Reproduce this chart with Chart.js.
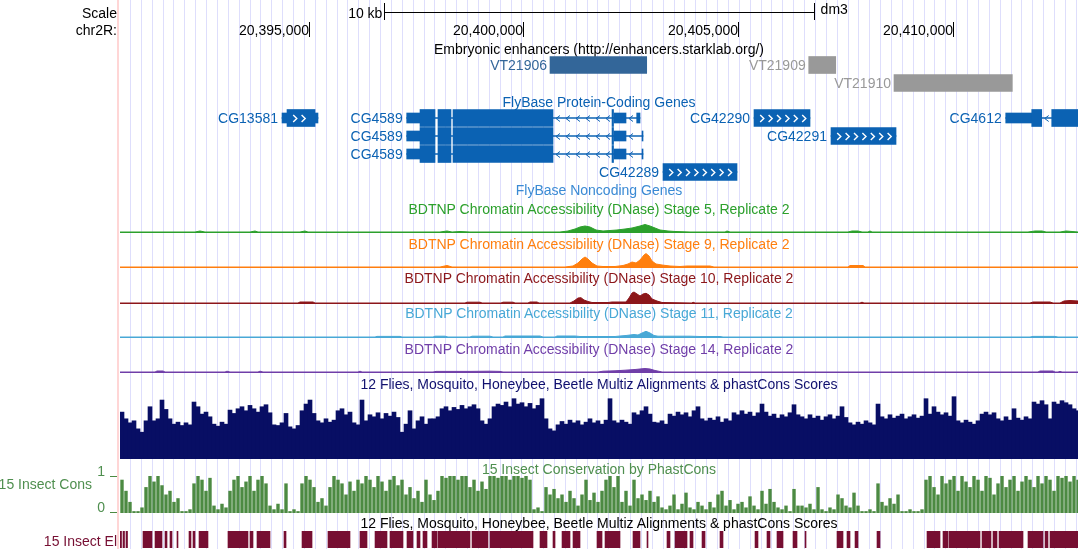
<!DOCTYPE html>
<html><head><meta charset="utf-8">
<script src="https://cdn.jsdelivr.net/npm/chart.js@4.4.0/dist/chart.umd.min.js"></script>
<style>
html,body{margin:0;padding:0;background:#fff;}
#wrap{position:relative;width:1078px;height:549px;overflow:hidden;font-family:'Liberation Sans',Arial,Helvetica,sans-serif;font-size:14px;}
#wrap canvas{position:absolute;left:0;}
.t{position:absolute;white-space:nowrap;line-height:16px;height:16px;}
#border{position:absolute;left:117px;top:0;width:2px;height:549px;background:#ffd6d6;}
</style></head><body><div id="wrap"></div>
<script>
// ---------- region & axis ----------
const REGION_START = 20390600;
const REGION_END = 20412921;
const RULER_TICKS = [20395000, 20400000, 20405000, 20410000];
const RULER_LABELS = ['20,395,000', '20,400,000', '20,405,000', '20,410,000'];
const SCALE_BAR_BP = 10000;
const GRID_START = 20390833;
const GRID_STEP = 253.3;

// ---------- enhancers ----------
const enhancerNames = ['VT21906', 'VT21909', 'VT21910'];
const enhancerStarts = [20400619, 20406647, 20408634];
const enhancerEnds = [20402872, 20407276, 20411391];
const enhancerRows = [0, 0, 1];
const enhancerScores = [1000, 400, 400];

// ---------- genes ----------
const geneNames = ['CG13581', 'CG4589', 'CG4589', 'CG4589', 'CG42290', 'CG42291', 'CG42289', 'CG4612'];
const geneRows = [0, 0, 1, 2, 0, 1, 3, 0];
const geneStrands = ['+', '-', '-', '-', '+', '+', '+', '-'];
const geneTxStarts = [20394375, 20397280, 20397280, 20397280, 20405372, 20407166, 20403252, 20411237];
const geneTxEnds = [20395213, 20402716, 20402786, 20402786, 20406677, 20408681, 20404976, 20413000];
const geneExons = [
  [[20394375, 20394491, 'u'], [20394491, 20395144, 'c'], [20395144, 20395213, 'u']],
  [[20397280, 20397590, 'u'], [20397590, 20397940, 'c'], [20398009, 20398312, 'c'], [20398359, 20400689, 'c'], [20402064, 20402099, 'c'], [20402110, 20402390, 'u'], [20402639, 20402716, 'u']],
  [[20397280, 20397590, 'u'], [20397590, 20397940, 'c'], [20398009, 20398312, 'c'], [20398359, 20400689, 'c'], [20402064, 20402099, 'c'], [20402110, 20402390, 'u'], [20402763, 20402786, 'u']],
  [[20397280, 20397590, 'u'], [20397590, 20397940, 'c'], [20398009, 20398312, 'c'], [20398359, 20400689, 'c'], [20402064, 20402099, 'c'], [20402110, 20402390, 'u'], [20402763, 20402786, 'u']],
  [[20405372, 20406677, 'c']],
  [[20407166, 20408681, 'c']],
  [[20403252, 20404976, 'c']],
  [[20411237, 20411843, 'u'], [20411843, 20412076, 'c'], [20412309, 20413000, 'c']]
];

// ---------- BDTNP DNase signal (position bp, signal) ----------
const stage5Pos = [20390600,20392348,20392464,20392580,20393629,20393746,20393815,20394794,20394910,20394980,20398056,20398219,20398336,20398522,20398755,20400852,20401038,20401202,20401318,20401435,20401551,20401691,20401854,20402017,20402180,20402367,20402530,20402716,20402833,20402949,20403066,20403182,20403368,20403532,20403881,20404697,20404743,20404813,20407562,20407656,20407795,20407889,20408028,20408075,20408122,20411756,20411920,20412083,20412176,20412502,20412642,20412782,20412921];
const stage5Val = [1,1,2,1,1,2,1,1,2,1,1,2,1,1.5,1,1,2,4,6,7,6,3,2,2.5,3,4,5,7,8.5,7,5,3,2,1.5,1,1,2,1,1,2,2,1,1,2,1,1,2,2,1,1,2,1.5,1];
const stage9Pos = [20390600,20398056,20398219,20398336,20400969,20401155,20401271,20401365,20401435,20401504,20401598,20401714,20401854,20402134,20402320,20402436,20402530,20402623,20402716,20402809,20402856,20402926,20402996,20403089,20403229,20403415,20403648,20403811,20404347,20404440,20407562,20407609,20407912,20407959,20412921];
const stage9Val = [1,1,2.5,1,1,2,5,9,11,9,5,2,1.5,1.5,2.5,4,6,5,8,13,14.4,12,7,4,3,2,1.5,2,2,1,1,2.5,2.5,1,1];
const stage10Pos = [20390600,20394747,20394794,20395097,20395144,20398639,20398685,20398988,20399035,20399477,20399524,20399757,20399804,20400106,20400153,20400316,20400363,20401085,20401178,20401271,20401341,20401411,20401504,20401598,20401970,20402064,20402390,20402460,20402530,20402576,20402646,20402716,20402786,20402856,20402926,20402996,20403112,20403229,20403928,20403951,20403998,20407842,20407889,20407935,20411803,20411873,20412269,20412339,20412502,20412595,20412735,20412921];
const stage10Val = [1,1,2,2,1,1,1.8,1.8,1,1,1.8,1.8,1,1,2,2,1,1,3,6,6.3,4,2.5,1.5,1.5,2,2,6,11,12,10,8,10,10.7,9,5,3,1.5,1,1.8,1,1,1.8,1,1,2,2,1,1,3,3.5,3];
const stage11Pos = [20390600,20396542,20396588,20397124,20397171,20397893,20397940,20398173,20398242,20398755,20398802,20399221,20399291,20399524,20399571,20400386,20400456,20400736,20400782,20401202,20401318,20401784,20402134,20402250,20402390,20402483,20402576,20402669,20402763,20402856,20402949,20403042,20403135,20403881,20404114,20404580,20404650,20411803,20411873,20412386,20412455,20412921];
const stage11Val = [1,1,1.6,1.6,1,1,1.8,1.8,1,1,1.8,1.8,1,1,2,2,1,1,2,2,1.5,1.5,1.5,2,2.5,3,3.5,3,5,6.7,5,2.5,1.8,1.8,1.5,1.5,1,1,1.6,1.6,1,1];
const stage14Pos = [20390600,20391416,20391462,20391602,20391649,20393047,20393093,20393163,20393815,20393862,20393932,20396145,20396192,20396239,20397893,20397963,20398755,20399221,20399454,20399524,20401737,20401854,20402134,20402367,20402600,20402763,20402833,20402949,20403066,20403182,20403229,20411989,20412036,20412339,20412386,20412455,20412502,20412549,20412921];
const stage14Val = [1,1,2,2,1,1,1.8,1,1,1.8,1,1,1.8,1,1,1.6,1.6,1.8,1.6,1,1,1.8,2.2,2.8,3.5,4.2,4.5,4,2.5,1.5,1,1,2,2,1,1,1.6,1,1];

// ---------- conservation (binned) ----------
const BIN_BP = 93.2;
const multizScores = [
70,60,54,57,45,40,57,78,57,60, 88,74,60,52,55,50,54,51,85,78,
67,70,63,52,49,55,52,73,68,75, 78,72,80,75,70,78,81,69,51,50,
54,68,48,45,50,72,82,88,68,57, 54,60,55,58,72,75,66,70,54,51,
88,57,66,63,69,60,68,64,70,62, 40,52,72,45,57,63,52,60,60,63,
75,78,72,77,74,80,75,78,81,75, 57,52,60,78,82,80,85,78,90,82,
84,78,83,75,80,90,60,45,42,51, 56,52,58,54,57,51,55,60,54,57,
52,58,90,57,54,58,55,52,69,66, 72,78,67,55,54,57,52,67,64,70,
66,69,63,72,78,60,57,61,58,63, 55,60,57,69,66,72,67,70,64,69,
82,70,64,67,61,66,63,69,81,66, 63,60,66,61,64,58,63,66,60,64,
78,62,54,51,55,52,57,54,51,82, 63,60,66,61,64,67,60,63,66,61,
64,90,67,78,70,66,69,64,93,57, 54,58,55,52,57,67,70,66,69,60,
57,63,58,75,61,58,63,60,85,82, 87,81,60,85,82,87,84,81,75,72];
const phastCons = [
0.9,0.6,0.3,0.05,0.05,0.15,0.7,1.0,0.85,1.0, 0.75,0.5,0.6,0.3,0.4,0.05,0.05,0.1,0.8,1.0,
0.9,0.6,0.95,0.2,0.1,0.25,0.15,0.6,0.9,1.0, 0.7,0.85,1.0,0.6,0.9,1.0,0.8,0.2,0.1,0.25,
0.1,0.8,0.05,0.1,0.05,0.8,1.0,0.9,0.7,0.3, 0.4,0.2,0.7,1.0,0.9,0.8,0.5,0.85,0.6,0.9,
0.8,1.0,0.9,0.7,1.0,0.85,0.6,0.9,1.0,0.75, 0.9,0.5,0.7,0.4,0.6,0.3,0.9,0.5,0.35,0.6,
1.0,0.95,1.0,1.0,0.9,1.0,1.0,0.7,0.9,0.6, 0.85,0.65,1.0,1.0,0.95,1.0,1.0,0.9,1.0,1.0,
0.95,1.0,0.9,0.1,0.15,0.05,0.7,0.5,0.65,0.4, 0.5,0.3,0.6,0.4,0.2,0.5,0.9,0.35,0.55,0.3,
0.6,0.9,1.0,0.7,1.0,0.3,0.6,0.2,0.9,0.4, 0.5,0.35,0.6,0.3,0.45,0.15,0.1,0.2,0.5,0.1,
0.25,0.55,0.15,0.1,0.3,0.2,0.1,0.3,0.15,0.5, 0.6,0.2,0.35,0.1,0.25,0.3,0.15,0.45,0.2,0.1,
0.6,0.25,0.65,0.3,0.15,0.1,0.2,0.05,0.65,0.2, 0.2,0.15,0.25,0.1,0.7,0.1,0.05,0.15,0.1,0.5,
0.4,0.2,0.15,0.55,0.2,0.05,0.05,0.1,0.05,0.8, 0.3,0.2,0.4,0.25,0.5,0.05,0.05,0.1,0.05,0.05,
0.1,0.9,1.0,0.7,0.5,1.0,0.8,0.9,1.0,0.6, 1.0,0.85,0.7,1.0,0.9,0.6,1.0,0.95,0.5,0.8,
1.0,0.7,0.9,1.0,0.6,0.85,1.0,0.9,0.7,1.0, 0.8,1.0,0.9,0.6,1.0,0.95,1.0,0.85,1.0,0.9];

// ---------- conserved elements ----------
const elementStarts = [20390600,20390670,20390740,20391136,20391416,20391649,20391765,20391928,20392208,20392301,20392441,20393116,20393629,20393792,20394421,20394841,20395446,20396192,20396542,20396891,20397287,20397520,20397660,20397870,20398009,20398802,20399221,20400386,20400689,20400899,20401155,20401714,20401901,20402553,20402879,20403345,20403532,20403881,20404161,20404580,20405396,20405675,20405908,20406281,20406561,20407306,20407539,20407726,20408238,20409403,20409776,20409916,20410685,20410941,20411081,20411756,20412153,20412269];
const elementEnds = [20390635,20390705,20390775,20391346,20391579,20391695,20391812,20391951,20392254,20392348,20392650,20393582,20393699,20394095,20394468,20395074,20395959,20396355,20396821,20397194,20397427,20397590,20397753,20397986,20398755,20399174,20400223,20400549,20400736,20401085,20401318,20401831,20402250,20402716,20402902,20403415,20403811,20403951,20404231,20404650,20405465,20405745,20406048,20406374,20406584,20407446,20407609,20407795,20408308,20409706,20409892,20410638,20410894,20411034,20411640,20412106,20412222,20412921];

// ---------- styles ----------
const GENE_COLOR = '#0b62b3';
const GRID_COLOR = '#dedefc';
const W = 1078, LEFT = 120;
const wrap = document.getElementById('wrap');

function makeCanvas(top, height) {
  const c = document.createElement('canvas');
  c.width = W; c.height = height;
  c.style.top = top + 'px'; c.style.width = W + 'px'; c.style.height = height + 'px';
  wrap.appendChild(c);
  return c;
}
function addText(txt, x, y, align, color) {
  const d = document.createElement('div');
  d.className = 't'; d.textContent = txt; d.style.color = color || '#000';
  d.style.top = (y - 8) + 'px'; d.style.left = x + 'px';
  if (align === 'right') d.style.transform = 'translateX(-100%)';
  else if (align === 'center') d.style.transform = 'translateX(-50%)';
  wrap.appendChild(d);
}
function baseOptions(ymin, ymax, extra) {
  return Object.assign({
    responsive: false, animation: false, devicePixelRatio: 1, events: [],
    layout: { padding: { left: LEFT, right: 0, top: 0, bottom: 0 } },
    plugins: { legend: { display: false }, tooltip: { enabled: false } },
    scales: {
      x: { type: 'linear', min: REGION_START, max: REGION_END, display: false, offset: false },
      y: { type: 'linear', min: ymin, max: ymax, display: false, offset: false }
    }
  }, extra || {});
}

// ---------- background grid ----------
const gridPlugin = {
  id: 'grid',
  beforeDatasetsDraw(chart) {
    const { ctx } = chart, x = chart.scales.x;
    ctx.save(); ctx.fillStyle = GRID_COLOR;
    for (let g = GRID_START; g <= REGION_END; g += GRID_STEP) {
      const px = Math.round(x.getPixelForValue(g));
      ctx.fillRect(px, 0, 1, chart.height);
    }
    ctx.restore();
  }
};
new Chart(makeCanvas(0, 549), { type: 'scatter', data: { datasets: [{ data: [] }] }, options: baseOptions(0, 1), plugins: [gridPlugin] });
const border = document.createElement('div'); border.id = 'border'; wrap.appendChild(border);

// ---------- ruler ----------
const rulerPlugin = {
  id: 'ruler',
  afterDraw(chart) {
    const { ctx } = chart, x = chart.scales.x;
    const mid = (REGION_START + REGION_END) / 2;
    const a = Math.round(x.getPixelForValue(mid - SCALE_BAR_BP / 2)) + 0.5;
    const b = Math.round(x.getPixelForValue(mid + SCALE_BAR_BP / 2)) + 0.5;
    ctx.save(); ctx.strokeStyle = '#000'; ctx.lineWidth = 1;
    ctx.beginPath(); ctx.moveTo(a, 12.5); ctx.lineTo(b, 12.5);
    ctx.moveTo(a, 3); ctx.lineTo(a, 20); ctx.moveTo(b, 3); ctx.lineTo(b, 20);
    RULER_TICKS.forEach(t => { const p = Math.round(x.getPixelForValue(t)) + 0.5; ctx.moveTo(p, 22); ctx.lineTo(p, 37); });
    ctx.stroke(); ctx.restore();
  }
};
const ruler = new Chart(makeCanvas(0, 40), { type: 'scatter', data: { datasets: [{ data: [] }] }, options: baseOptions(0, 1), plugins: [rulerPlugin] });
const rx = ruler.scales.x;
const CENTER_X = rx.getPixelForValue((REGION_START + REGION_END) / 2);
addText('Scale', 117, 12.5, 'right');
addText('chr2R:', 117, 29.5, 'right');
addText('10 kb', rx.getPixelForValue((REGION_START + REGION_END) / 2 - SCALE_BAR_BP / 2) - 2, 12.5, 'right');
addText('dm3', rx.getPixelForValue((REGION_START + REGION_END) / 2 + SCALE_BAR_BP / 2) + 7, 8.5, 'left');
RULER_TICKS.forEach((t, i) => addText(RULER_LABELS[i], Math.round(rx.getPixelForValue(t)), 29.5, 'right'));

// ---------- enhancers ----------
addText('Embryonic enhancers (http://enhancers.starklab.org/)', CENTER_X, 48.5, 'center');
const enhColor = s => s >= 700 ? '#336699' : '#999999';
const ENH_TOP = 56;
const enh = new Chart(makeCanvas(ENH_TOP, 36), {
  type: 'bar',
  data: { datasets: [{
    data: enhancerNames.map((n, i) => ({ x: [enhancerStarts[i], enhancerEnds[i]], y: enhancerRows[i] })),
    backgroundColor: enhancerScores.map(enhColor), barThickness: 17, grouped: false, borderWidth: 0
  }] },
  options: Object.assign(baseOptions(-0.5, 1.5), { indexAxis: 'y' })
});
enh.options.scales.y.reverse = true; enh.update();
enhancerNames.forEach((n, i) => addText(n, enh.scales.x.getPixelForValue(enhancerStarts[i]) - 3, ENH_TOP + enh.scales.y.getPixelForValue(enhancerRows[i]), 'right', enhColor(enhancerScores[i])));

// ---------- genes ----------
addText('FlyBase Protein-Coding Genes', CENTER_X, 101.5, 'center', GENE_COLOR);
function drawChev(ctx, px, cy, dir, w, h) {
  ctx.beginPath(); ctx.moveTo(px - dir * w, cy - h); ctx.lineTo(px + dir * w, cy); ctx.lineTo(px - dir * w, cy + h); ctx.stroke();
}
const chevronPlugin = {
  id: 'chev',
  afterDatasetsDraw(chart) {
    const { ctx, chartArea } = chart, x = chart.scales.x, y = chart.scales.y;
    ctx.save();
    ctx.beginPath(); ctx.rect(chartArea.left, chartArea.top, chartArea.width, chartArea.height); ctx.clip();
    geneNames.forEach((n, i) => {
      const cy = Math.round(y.getPixelForValue(geneRows[i])) + 0.5;
      const ex = geneExons[i].slice().sort((a, b) => a[0] - b[0]);
      const dir = geneStrands[i] === '+' ? 1 : -1;
      ctx.strokeStyle = GENE_COLOR; ctx.lineWidth = 1;
      for (let k = 1; k < ex.length; k++) {
        const a = x.getPixelForValue(ex[k - 1][1]), b = x.getPixelForValue(ex[k][0]);
        for (let p = a + 5; p <= b - 3; p += 10) drawChev(ctx, p, cy, dir, 2, 3);
      }
      if (dir === 1) {
        ctx.strokeStyle = '#ffffff'; ctx.lineWidth = 1.4;
        ex.filter(e => e[2] === 'c').forEach(e => {
          const a = x.getPixelForValue(e[0]), b = x.getPixelForValue(e[1]);
          for (let p = a + 8; p <= b - 6; p += 8.4) drawChev(ctx, p, cy, dir, 1.8, 3.5);
        });
      }
    });
    ctx.restore();
  }
};
const GENE_TOP = 109;
const intronData = [], utrData = [], cdsData = [];
geneNames.forEach((n, i) => {
  intronData.push({ x: [geneTxStarts[i], geneTxEnds[i]], y: geneRows[i] });
  geneExons[i].forEach(e => (e[2] === 'c' ? cdsData : utrData).push({ x: [e[0], e[1]], y: geneRows[i] }));
});
const genes = new Chart(makeCanvas(GENE_TOP, 72), {
  type: 'bar',
  data: { datasets: [
    { data: cdsData, backgroundColor: GENE_COLOR, barThickness: 17, grouped: false, borderWidth: 0 },
    { data: utrData, backgroundColor: GENE_COLOR, barThickness: 10, grouped: false, borderWidth: 0 },
    { data: intronData, backgroundColor: GENE_COLOR, barThickness: 1, grouped: false, borderWidth: 0 }
  ] },
  options: Object.assign(baseOptions(-0.5, 3.5), { indexAxis: 'y' }),
  plugins: [chevronPlugin]
});
genes.options.scales.y.reverse = true; genes.update();
geneNames.forEach((n, i) => addText(n, genes.scales.x.getPixelForValue(geneTxStarts[i]) - 4, GENE_TOP + genes.scales.y.getPixelForValue(geneRows[i]), 'right', GENE_COLOR));
addText('FlyBase Noncoding Genes', CENTER_X, 190, 'center', '#3a8ad4');

// ---------- BDTNP tracks ----------
const bdtnp = [
  { title: 'BDTNP Chromatin Accessibility (DNase) Stage 5, Replicate 2', pos: stage5Pos, val: stage5Val, color: 'rgb(44,160,44)', bottom: 233, ty: 208.5 },
  { title: 'BDTNP Chromatin Accessibility (DNase) Stage 9, Replicate 2', pos: stage9Pos, val: stage9Val, color: 'rgb(255,127,14)', bottom: 268, ty: 243.5 },
  { title: 'BDTNP Chromatin Accessibility (DNase) Stage 10, Replicate 2', pos: stage10Pos, val: stage10Val, color: 'rgb(140,22,26)', bottom: 303.5, ty: 278 },
  { title: 'BDTNP Chromatin Accessibility (DNase) Stage 11, Replicate 2', pos: stage11Pos, val: stage11Val, color: 'rgb(72,168,214)', bottom: 338, ty: 313 },
  { title: 'BDTNP Chromatin Accessibility (DNase) Stage 14, Replicate 2', pos: stage14Pos, val: stage14Val, color: 'rgb(112,62,168)', bottom: 373, ty: 348.5 }
];
bdtnp.forEach(t => {
  addText(t.title, CENTER_X, t.ty, 'center', t.color);
  new Chart(makeCanvas(t.bottom - 22, 22), {
    type: 'line',
    data: { datasets: [{ data: t.pos.map((p, i) => ({ x: p, y: t.val[i] })), borderColor: t.color, backgroundColor: t.color, borderWidth: 1, fill: 'origin', pointRadius: 0, tension: 0 }] },
    options: baseOptions(0, 22)
  });
});

// ---------- Multiz ----------
addText('12 Flies, Mosquito, Honeybee, Beetle Multiz Alignments & phastCons Scores', CENTER_X, 384, 'center', '#10106e');
new Chart(makeCanvas(392, 67), {
  type: 'bar',
  data: { datasets: [{ data: multizScores.map((v, i) => ({ x: REGION_START + (i + 0.5) * BIN_BP, y: v })), backgroundColor: 'rgb(8,14,100)', barPercentage: 1, categoryPercentage: 1, borderWidth: 0 }] },
  options: baseOptions(0, 100)
});

// ---------- phastCons ----------
const CONS_COLOR = 'rgb(76,138,66)';
addText('15 Insect Conservation by PhastCons', CENTER_X, 469, 'center', '#4f8f4f');
const consTickPlugin = {
  id: 'consTicks',
  afterDraw(chart) {
    const { ctx } = chart, y = chart.scales.y;
    ctx.save(); ctx.fillStyle = CONS_COLOR;
    [1, 0].forEach(v => ctx.fillRect(110, Math.round(y.getPixelForValue(v)) - (v === 0 ? 1 : 0), 7, 1));
    ctx.restore();
  }
};
const CONS_TOP = 476;
const cons = new Chart(makeCanvas(CONS_TOP, 37), {
  type: 'bar',
  data: { datasets: [{ data: phastCons.map((v, i) => ({ x: REGION_START + (i + 0.5) * BIN_BP, y: v })), backgroundColor: CONS_COLOR, barPercentage: 0.85, categoryPercentage: 1, borderWidth: 0 }] },
  options: baseOptions(0, 1),
  plugins: [consTickPlugin]
});
addText('15 Insect Cons', 92, 483.5, 'right', '#4f8f4f');
addText('1', 105, CONS_TOP + cons.scales.y.getPixelForValue(1) - 5.5, 'right', '#4f8f4f');
addText('0', 105, CONS_TOP + cons.scales.y.getPixelForValue(0) - 6, 'right', '#4f8f4f');

// ---------- elements ----------
addText('12 Flies, Mosquito, Honeybee, Beetle Multiz Alignments & phastCons Scores', CENTER_X, 522.5, 'center', '#000');
new Chart(makeCanvas(531, 17), {
  type: 'bar',
  data: { datasets: [{ data: elementStarts.map((s, i) => ({ x: [s, elementEnds[i]], y: 0 })), backgroundColor: 'rgb(118,14,50)', barThickness: 17, grouped: false, borderWidth: 0 }] },
  options: Object.assign(baseOptions(-0.5, 0.5), { indexAxis: 'y' })
});
addText('15 Insect El', 117, 540.5, 'right', 'rgb(118,14,50)');
</script></body></html>
